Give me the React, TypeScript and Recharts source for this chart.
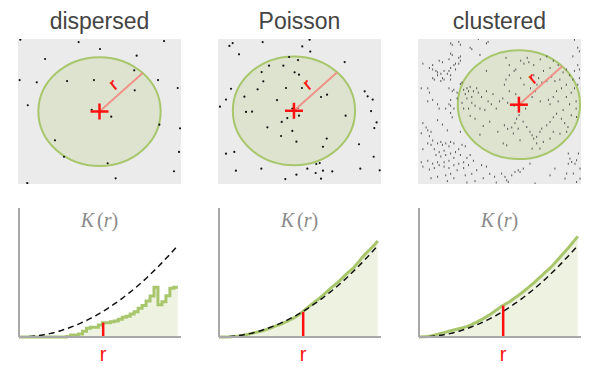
import React from 'react';
import { ScatterChart, Scatter, XAxis, YAxis, ReferenceLine, ComposedChart, Area, Line } from 'recharts';

// ---------- data ----------
const PANEL_NAMES = ['dispersed', 'Poisson', 'clustered'];

// point patterns, unit square, y up
const DISPERSED_PTS: [number, number][] = [
  [0.014, 0.995], [0.372, 0.979], [0.896, 0.986], [0.503, 0.931], [0.166, 0.862], [0.728, 0.885],
  [0.713, 0.784], [0.010, 0.717], [0.115, 0.701], [0.301, 0.710], [0.466, 0.717], [0.859, 0.717],
  [0.980, 0.662], [0.716, 0.646], [0.060, 0.543], [0.452, 0.512], [0.572, 0.464], [0.867, 0.409],
  [0.994, 0.384], [0.227, 0.301], [0.988, 0.221], [0.282, 0.188], [0.550, 0.143], [0.957, 0.088],
  [0.599, 0.039], [0.057, 0.007],
];

const POISSON_PTS: [number, number][] = [
  [0.090, 0.972], [0.070, 0.952], [0.274, 0.979], [0.562, 0.995], [0.517, 0.949], [0.129, 0.894],
  [0.566, 0.913], [0.436, 0.876], [0.491, 0.855], [0.777, 0.841], [0.313, 0.816], [0.401, 0.816],
  [0.268, 0.772], [0.470, 0.770], [0.497, 0.754], [0.278, 0.708], [0.080, 0.657], [0.243, 0.653],
  [0.417, 0.662], [0.515, 0.662], [0.669, 0.616], [0.632, 0.600], [0.900, 0.639], [0.918, 0.605],
  [0.162, 0.602], [0.049, 0.582], [0.362, 0.579], [0.949, 0.582], [0.012, 0.533], [0.172, 0.497],
  [0.209, 0.499], [0.489, 0.524], [0.456, 0.520], [0.939, 0.503], [0.783, 0.471], [0.391, 0.428],
  [0.973, 0.425], [0.303, 0.391], [0.959, 0.386], [0.456, 0.366], [0.387, 0.331], [0.667, 0.313],
  [0.481, 0.292], [0.865, 0.274], [0.644, 0.257], [0.100, 0.221], [0.049, 0.209], [0.955, 0.188],
  [0.624, 0.145], [0.603, 0.138], [0.266, 0.106], [0.548, 0.106], [0.873, 0.106], [0.110, 0.092],
  [0.644, 0.092], [0.701, 0.087], [0.599, 0.076], [0.481, 0.064], [0.992, 0.094], [0.413, 0.034],
  [0.632, 0.037], [0.425, 0.455], [0.497, 0.471],
];

const CLUSTERED_PTS: [number, number][] = [
  [0.20, 0.97], [0.21, 0.96], [0.25, 0.98], [0.26, 0.96], [0.37, 1.00], [0.42, 0.97], [0.43, 0.98],
  [0.32, 0.94], [0.33, 0.93], [0.38, 0.89], [0.26, 0.88], [0.25, 0.87], [0.20, 0.90], [0.21, 0.89],
  [0.19, 0.86], [0.15, 0.84], [0.13, 0.85], [0.03, 0.83], [0.09, 0.82], [0.07, 0.80], [0.09, 0.79],
  [0.11, 0.78], [0.12, 0.77], [0.12, 0.75], [0.14, 0.76], [0.16, 0.78], [0.18, 0.76], [0.19, 0.78],
  [0.20, 0.80], [0.22, 0.82], [0.23, 0.79], [0.23, 0.83], [0.25, 0.83], [0.26, 0.85], [0.15, 0.73],
  [0.16, 0.72], [0.09, 0.73], [0.10, 0.72], [0.14, 0.71], [0.20, 0.75], [0.20, 0.72], [0.19, 0.66],
  [0.21, 0.64], [0.22, 0.65], [0.24, 0.63], [0.24, 0.59], [0.20, 0.58], [0.19, 0.55], [0.20, 0.54],
  [0.22, 0.52], [0.17, 0.52], [0.06, 0.66], [0.07, 0.63], [0.02, 0.66], [0.09, 0.58], [0.12, 0.55],
  [0.06, 0.57], [0.13, 0.52], [0.26, 0.69], [0.27, 0.70], [0.28, 0.65], [0.30, 0.66], [0.31, 0.64],
  [0.32, 0.67], [0.34, 0.64], [0.36, 0.66], [0.29, 0.62], [0.30, 0.59], [0.33, 0.60], [0.37, 0.63],
  [0.39, 0.60], [0.42, 0.64], [0.43, 0.57], [0.33, 0.56], [0.35, 0.54], [0.27, 0.56], [0.28, 0.52],
  [0.31, 0.52], [0.38, 0.52], [0.41, 0.51], [0.45, 0.55], [0.48, 0.52], [0.46, 0.62], [0.50, 0.57],
  [0.42, 0.78],
  [0.63, 0.85], [0.65, 0.83], [0.67, 0.87], [0.68, 0.84], [0.71, 0.82], [0.75, 0.86], [0.79, 0.88],
  [0.83, 0.85], [0.86, 0.82], [0.81, 0.80], [0.77, 0.78], [0.74, 0.73], [0.76, 0.70], [0.79, 0.71],
  [0.82, 0.74], [0.84, 0.71], [0.87, 0.72], [0.89, 0.77], [0.91, 0.79], [0.93, 0.75], [0.95, 0.72],
  [0.91, 0.685], [0.88, 0.66], [0.85, 0.64], [0.83, 0.60], [0.80, 0.58], [0.81, 0.55], [0.86, 0.57],
  [0.91, 0.60], [0.94, 0.63], [0.96, 0.66], [0.98, 0.685], [0.97, 0.57], [0.93, 0.55], [0.89, 0.51],
  [0.75, 0.57], [0.72, 0.64], [0.69, 0.66], [0.65, 0.685], [0.63, 0.73], [0.59, 0.78], [0.56, 0.75],
  [0.54, 0.72], [0.53, 0.685], [0.56, 0.64], [0.60, 0.62], [0.52, 0.59], [0.55, 0.56], [0.59, 0.54],
  [0.66, 0.52], [0.70, 0.60], [0.98, 0.82], [0.99, 0.79], [0.96, 0.78], [0.97, 0.52], [0.99, 0.73],
  [0.54, 0.87], [0.56, 0.82], [0.60, 0.79], [0.71, 0.75], [0.73, 0.685], [0.96, 0.995], [0.98, 0.94],
  [0.99, 0.915], [0.95, 0.88],
  [0.03, 0.42], [0.05, 0.39], [0.06, 0.37], [0.02, 0.35], [0.08, 0.36], [0.07, 0.33], [0.09, 0.30],
  [0.06, 0.28], [0.08, 0.27], [0.03, 0.24], [0.10, 0.24], [0.12, 0.28], [0.14, 0.29], [0.15, 0.27],
  [0.17, 0.28], [0.20, 0.29], [0.22, 0.28], [0.19, 0.26], [0.16, 0.23], [0.13, 0.22], [0.11, 0.20],
  [0.14, 0.19], [0.17, 0.20], [0.20, 0.21], [0.23, 0.22], [0.25, 0.24], [0.27, 0.27], [0.29, 0.26],
  [0.26, 0.20], [0.22, 0.18], [0.19, 0.16], [0.16, 0.15], [0.12, 0.15], [0.09, 0.14], [0.06, 0.16],
  [0.02, 0.15], [0.03, 0.12], [0.07, 0.10], [0.10, 0.11], [0.13, 0.13], [0.16, 0.12], [0.19, 0.11],
  [0.22, 0.13], [0.25, 0.14], [0.28, 0.15], [0.30, 0.18], [0.32, 0.20], [0.34, 0.16], [0.31, 0.13],
  [0.28, 0.11], [0.24, 0.095], [0.20, 0.07], [0.17, 0.06], [0.12, 0.05], [0.08, 0.04], [0.29, 0.06],
  [0.33, 0.07], [0.36, 0.095], [0.39, 0.13], [0.42, 0.12], [0.44, 0.07], [0.47, 0.05], [0.40, 0.04],
  [0.35, 0.02], [0.30, 0.01], [0.22, 0.04], [0.18, 0.02], [0.48, 0.01], [0.20, 0.49], [0.21, 0.46],
  [0.12, 0.44], [0.15, 0.41], [0.18, 0.37], [0.26, 0.36], [0.32, 0.47], [0.35, 0.45], [0.40, 0.40],
  [0.44, 0.43], [0.38, 0.34], [0.49, 0.36],
  [0.53, 0.405], [0.55, 0.38], [0.575, 0.39], [0.605, 0.45], [0.62, 0.475], [0.595, 0.42], [0.645, 0.43],
  [0.667, 0.393], [0.687, 0.36], [0.70, 0.336], [0.71, 0.313], [0.728, 0.325], [0.748, 0.36], [0.759, 0.382],
  [0.79, 0.405], [0.81, 0.428], [0.83, 0.46], [0.85, 0.485], [0.88, 0.45], [0.90, 0.42], [0.92, 0.393],
  [0.94, 0.474], [0.973, 0.462], [0.912, 0.36], [0.871, 0.347], [0.83, 0.36], [0.81, 0.313], [0.769, 0.29],
  [0.728, 0.28], [0.70, 0.244], [0.626, 0.302], [0.585, 0.348], [0.523, 0.28], [0.544, 0.267], [0.748, 0.244],
  [0.615, 0.382], [0.922, 0.21], [0.932, 0.175], [0.943, 0.152], [0.922, 0.14], [0.963, 0.14], [0.973, 0.164],
  [0.984, 0.21], [0.994, 0.106], [0.953, 0.072], [0.912, 0.072], [0.902, 0.037], [0.973, 0.014], [0.994, 0.037],
  [0.513, 0.072], [0.534, 0.049], [0.575, 0.06], [0.595, 0.083], [0.615, 0.095], [0.646, 0.106], [0.626, 0.083],
  [0.554, 0.014], [0.544, 0.026], [0.81, 0.06], [0.84, 0.106], [0.718, 0.003], [0.687, 0.14],
];

const CENTERS: [number, number][] = [[0.5, 0.5], [0.466, 0.505], [0.619, 0.547]];
const SEARCH_RADIUS = 0.375;

// Ripley's K curves
const R_GRID = [0, 0.25, 0.5, 0.75, 1, 1.25, 1.5, 1.75, 2, 2.25, 2.5, 2.75, 3, 3.25, 3.5, 3.75, 4, 4.25, 4.5, 4.75,
  5, 5.25, 5.5, 5.75, 6, 6.25, 6.5, 6.75, 7, 7.25, 7.5, 7.75, 8, 8.25, 8.5, 8.75, 9, 9.25, 9.5, 9.75, 10];
const CSR_K = [0, 0, 0.2, 0.4, 0.7, 1.1, 1.6, 2.2, 2.8, 3.6, 4.4, 5.4, 6.4, 7.5, 8.7, 10.0, 11.4, 12.8, 14.4, 16.0,
  17.8, 19.6, 21.5, 23.5, 25.6, 27.7, 30.0, 32.4, 34.8, 37.3, 39.9, 42.6, 45.4, 48.3, 51.3, 54.4, 57.5, 60.8, 64.1, 67.5, 71.0];
const DISPERSED_K = [0, 0, 0, 0, 0, 0, 0, 0, 0, 0, 0, 0, 0.4, 1.5, 1.5, 2.3, 4.5, 6.7, 7.5, 7.5,
  9.3, 11.1, 11.1, 11.9, 12.5, 13.7, 15.3, 16.0, 17.8, 19.6, 22.2, 24.5, 28.0, 31.8, 38.5, 25.0, 27.4, 32.0, 37.8, 38.5, 38.5];
const POISSON_K = [0, 0, 0.05, 0.2, 0.45, 0.8, 1.3, 1.9, 2.6, 3.4, 4.0, 4.8, 5.9, 7.0, 8.2, 9.3, 10.6, 12.0, 13.4, 15.0,
  17.0, 19.5, 21.9, 24.5, 27.0, 29.3, 31.8, 34.6, 37.5, 40.0, 42.6, 45.5, 48.5, 51.2, 54.0, 57.5, 61.5, 64.8, 67.8, 71.0, 74.5];
const CLUSTERED_K = [0, 0.1, 0.35, 0.8, 1.5, 2.4, 3.2, 4.0, 4.8, 5.6, 6.4, 7.2, 8.0, 9.3, 10.7, 12.3, 14.0, 15.8, 17.7, 19.8,
  22.0, 24.2, 26.0, 27.8, 30.0, 32.2, 34.5, 37.0, 39.6, 42.2, 45.0, 47.8, 50.7, 53.4, 56.6, 60.0, 63.6, 67.0, 70.6, 74.3, 78.0];
const MARKER_R = 5.3;
const MARKER_K = [11.1, 19.5, 24.3];
const CURVE_TYPES: ('stepAfter' | 'linear' | 'monotone')[] = ['stepAfter', 'linear', 'monotone'];

// ---------- layout / style ----------
const PLOT_W = 163;
const PLOT_H = 145;
const GREEN = '#a8c66c';
const GREEN_FILL = '#eef2e1';
const CIRCLE_FILL = '#dee3cf';
const PANEL_BG = '#ebebeb';
const RED = '#ff1010';

const toXY = (pts: [number, number][]) => pts.map(([x, y]) => ({ x, y }));
const PATTERNS = [toXY(DISPERSED_PTS), toXY(POISSON_PTS), toXY(CLUSTERED_PTS)];
const K_SERIES = [DISPERSED_K, POISSON_K, CLUSTERED_K];

const EllipseShape = (props: any) => (
  <ellipse cx={props.cx} cy={props.cy} rx={SEARCH_RADIUS * PLOT_W} ry={SEARCH_RADIUS * PLOT_H}
    fill={CIRCLE_FILL} stroke={GREEN} strokeWidth={2} />
);
const DotShape = (props: any) => <circle cx={props.cx} cy={props.cy} r={1.1} fill="#111" />;
const FineDotShape = (props: any) => (
  <rect x={props.cx - 0.5} y={props.cy - 1} width={1} height={2} fill="#555" />
);
const NoShape = () => <g />;
const CrossShape = (props: any) => (
  <g stroke={RED} strokeWidth={2.5}>
    <line x1={props.cx - 9} y1={props.cy} x2={props.cx + 9} y2={props.cy} />
    <line x1={props.cx} y1={props.cy - 8} x2={props.cx} y2={props.cy + 8} />
  </g>
);

function PatternPanel({ idx }: { idx: number }) {
  const [cx, cy] = CENTERS[idx];
  const d = SEARCH_RADIUS * Math.SQRT1_2;
  return (
    <ScatterChart width={PLOT_W} height={PLOT_H} margin={{ top: 0, right: 0, bottom: 0, left: 0 }}
      style={{ position: 'absolute', left: 18 + idx * 200, top: 39, background: PANEL_BG }}>
      <XAxis type="number" dataKey="x" domain={[0, 1]} hide />
      <YAxis type="number" dataKey="y" domain={[0, 1]} hide />
      <Scatter data={[{ x: cx, y: cy }]} shape={EllipseShape} isAnimationActive={false} />
      <Scatter data={PATTERNS[idx]} shape={idx === 2 ? FineDotShape : DotShape} isAnimationActive={false} />
      <Scatter data={[{ x: cx, y: cy }, { x: cx + d, y: cy + d }]} shape={NoShape}
        line={{ stroke: '#f0928a', strokeWidth: 2 }} isAnimationActive={false} />
      <Scatter data={[{ x: cx, y: cy }]} shape={CrossShape} isAnimationActive={false} />
    </ScatterChart>
  );
}

function KPanel({ idx }: { idx: number }) {
  const k = K_SERIES[idx];
  const data = R_GRID.map((r, i) => ({ r, csr: CSR_K[i], k: k[i] }));
  return (
    <ComposedChart width={200} height={178} data={data} margin={{ top: 18, right: 19, bottom: 31, left: 19 }}
      style={{ position: 'absolute', left: idx * 200, top: 190 }}>
      <XAxis type="number" dataKey="r" domain={[0, 10.2]} hide />
      <YAxis type="number" domain={[0, 100]} hide />
      <Area dataKey="k" type={CURVE_TYPES[idx]} stroke={GREEN} strokeWidth={3} fill={GREEN_FILL} fillOpacity={1}
        isAnimationActive={false} dot={false} />
      <Line dataKey="csr" type="monotone" stroke="#111" strokeWidth={1.5} strokeDasharray="6 4"
        dot={false} isAnimationActive={false} />
      <ReferenceLine segment={[{ x: MARKER_R, y: 0 }, { x: MARKER_R, y: MARKER_K[idx] }]} stroke={RED} strokeWidth={2.5} />
      <ReferenceLine x={0} stroke="#a8a8a8" strokeWidth={2} />
      <ReferenceLine y={0} stroke="#a8a8a8" strokeWidth={2} />
    </ComposedChart>
  );
}

const R_LABEL_POS: [number, number][] = [[113.5, 84.5], [307.5, 84.5], [532.5, 78.5]];

export default function App() {
  return (
    <div style={{ position: 'absolute', left: 0, top: 0, width: 600, height: 368, background: '#fff', overflow: 'hidden' }}>
      {[0, 1, 2].map((i) => <PatternPanel key={'p' + i} idx={i} />)}
      {[0, 1, 2].map((i) => <KPanel key={'k' + i} idx={i} />)}
      <svg width={600} height={368} style={{ position: 'absolute', left: 0, top: 0, pointerEvents: 'none' }}>
        {PANEL_NAMES.map((n, i) => (
          <text key={n} x={99.5 + i * 200} y={29} textAnchor="middle" fontSize={23} fill="#444"
            fontFamily='"Liberation Sans", Arial, sans-serif'>{n}</text>
        ))}
        {R_LABEL_POS.map(([x, y], i) => (
          <text key={'rl' + i} x={x} y={y} textAnchor="middle" dominantBaseline="central" fontSize={17} fill={RED}
            stroke={RED} strokeWidth={0.4}
            fontFamily='"Liberation Sans", Arial, sans-serif' transform={`rotate(-40 ${x} ${y})`}>r</text>
        ))}
        {[0, 1, 2].map((i) => (
          <text key={'kt' + i} x={99.5 + i * 200} y={227} textAnchor="middle" fontSize={20} fill="#8a8a8a"
            fontFamily='"Liberation Serif", "Times New Roman", serif'>
            <tspan fontStyle="italic">K</tspan><tspan dx={3}>(</tspan><tspan fontStyle="italic">r</tspan><tspan>)</tspan>
          </text>
        ))}
        {[0, 1, 2].map((i) => (
          <text key={'rb' + i} x={103.2 + i * 200} y={361} textAnchor="middle" fontSize={20} fill={RED}
            fontFamily='"Liberation Sans", Arial, sans-serif'>r</text>
        ))}
      </svg>
    </div>
  );
}
